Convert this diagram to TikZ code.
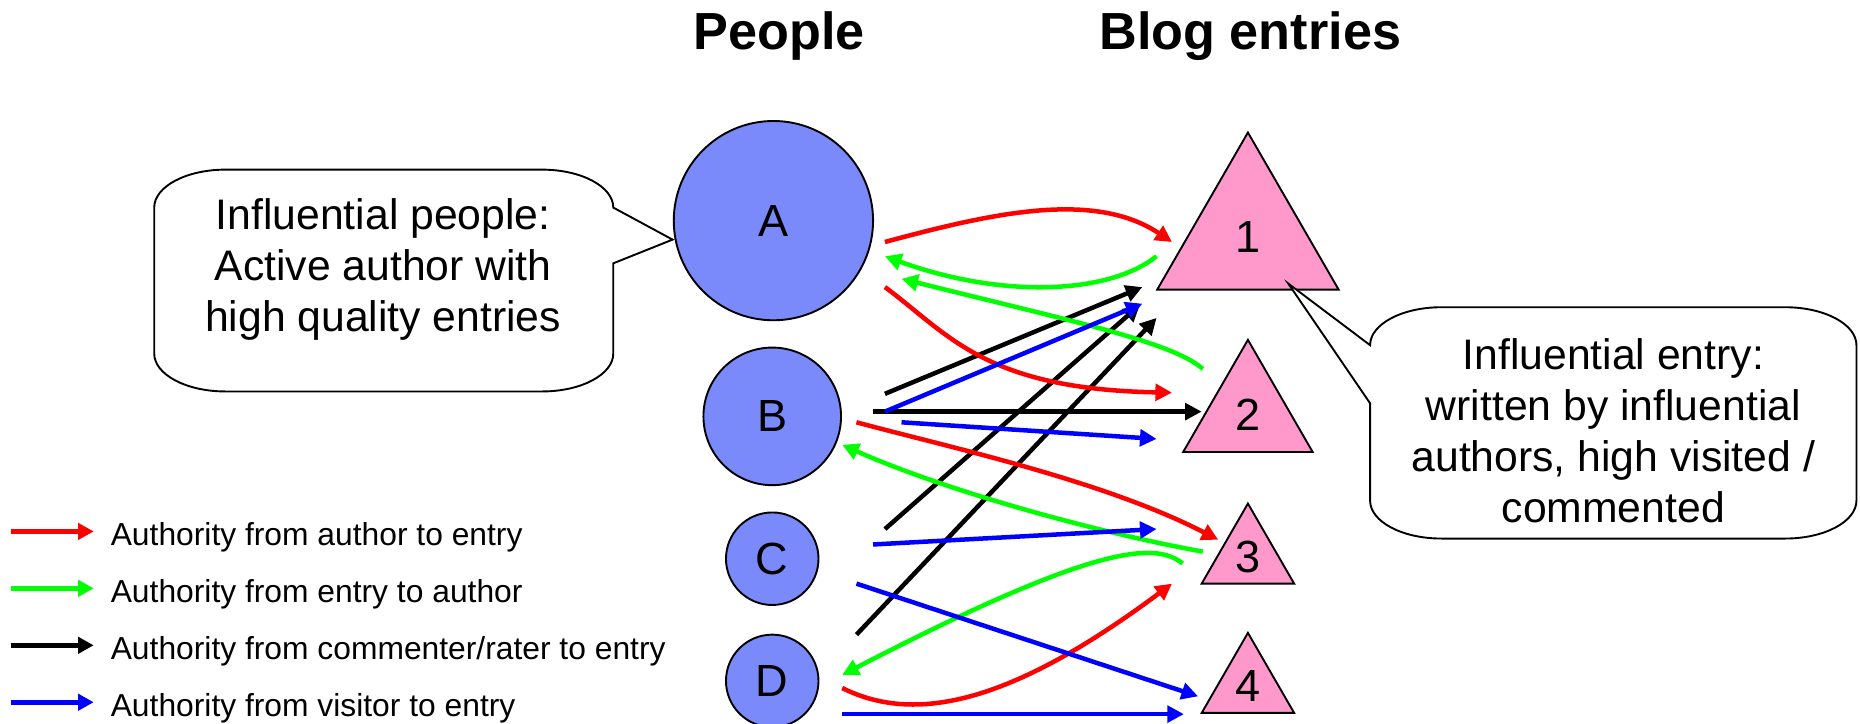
\documentclass[tikz,border=0pt]{standalone}
\usepackage{fontspec}
\setmainfont{Liberation Sans}
\usetikzlibrary{arrows.meta,shapes.geometric}

\definecolor{personfill}{RGB}{122,138,250}
\definecolor{entryfill}{RGB}{255,153,204}
\definecolor{linkred}{RGB}{255,0,0}
\definecolor{linkgreen}{RGB}{0,255,0}
\definecolor{linkblue}{RGB}{0,0,255}

\begin{document}
\begin{tikzpicture}[x=0.5pt,y=-0.5pt,
  person/.style={circle,draw=black,line width=0.8pt,fill=personfill,inner sep=0pt,
    font=\fontsize{19}{22}\selectfont},
  entry/.style={regular polygon,regular polygon sides=3,draw=black,line width=0.8pt,
    fill=entryfill,inner sep=0pt,font=\fontsize{19}{22}\selectfont},
  heading/.style={anchor=base,font=\fontsize{22}{26}\selectfont\bfseries},
  callout/.style={draw=black,line width=0.8pt,fill=white},
  callouttext/.style={align=center,font=\fontsize{18}{21.5}\selectfont},
  link/.style={line width=1.9pt,-{Triangle[length=7pt,width=7pt]}},
  keyline/.style={line width=1.9pt,-{Triangle[length=6.6pt,width=6.8pt]}},
  keytext/.style={anchor=base west,inner sep=0pt,font=\fontsize{13.4}{16}\selectfont},
]
\useasboundingbox (0,0) rectangle (1568,610);
\fill[white] (0,0) rectangle (1568,610);

% column headings
\node[heading] (people) at (657,42) {People};
\node[heading] (blog) at (1054,42) {Blog entries};

% people
\node[person,minimum size=84pt] (A) at (652,186) {A};
\node[person,minimum size=58pt] (B) at (651,351) {B};
\node[person,minimum size=39pt] (C) at (651,471) {C};
\node[person,minimum size=39pt] (D) at (651,574) {D};

% blog entries
\node[entry,minimum size=88.3pt] (E1) at (1052,200) {1};
\node[entry,minimum size=63pt] (E2) at (1052,349.5) {2};
\node[entry,minimum size=45pt] (E3) at (1052,469.5) {3};
\node[entry,minimum size=45pt] (E4) at (1052,578.5) {4};

% callout for influential people (rounded box with a wedge towards A)
\draw[callout] (190,143) -- (457,143) .. controls (490,143) and (517,157.3) .. (517,175)
  -- (567,202) -- (517,222) -- (517,298)
  .. controls (517,315.7) and (490,330) .. (457,330) -- (190,330)
  .. controls (157,330) and (130,315.7) .. (130,298) -- (130,175)
  .. controls (130,157.3) and (157,143) .. (190,143) -- cycle;
\node[callouttext] (peoplenote) at (323,227)
  {Influential people:\\Active author with\\high quality entries};

% callout for influential entries (wedge towards entry 1)
\draw[callout] (1215,259) -- (1505,259) .. controls (1538,259) and (1565,273.3) .. (1565,291)
  -- (1565,422) .. controls (1565,439.7) and (1538,454) .. (1505,454) -- (1215,454)
  .. controls (1182,454) and (1155,439.7) .. (1155,422) -- (1155,340) -- (1086,239)
  -- (1155,291) .. controls (1155,273.3) and (1182,259) .. (1215,259) -- cycle;
\node[callouttext] (entrynote) at (1360,363)
  {Influential entry:\\written by influential\\authors, high visited /\\commented};

% connector end points
\coordinate (a1s) at (746,204);  \coordinate (a1e) at (988,204);
\coordinate (a2s) at (746,242);  \coordinate (a2e) at (988,331);
\coordinate (b3s) at (722,356);  \coordinate (b3e) at (1027,455);
\coordinate (d3s) at (710,580);  \coordinate (d3e) at (988,492);
\coordinate (g1s) at (975,216);  \coordinate (g1e) at (746,216);
\coordinate (g2s) at (1014,311); \coordinate (g2e) at (760,235);
\coordinate (g3s) at (1014,465); \coordinate (g3e) at (710,375);
\coordinate (g4s) at (997,475);  \coordinate (g4e) at (710,569);
\coordinate (k1s) at (746,332);  \coordinate (k1e) at (963,242);
\coordinate (k2s) at (736,347);  \coordinate (k2e) at (1013,347);
\coordinate (k3s) at (746,446);  \coordinate (k3e) at (961,257);
\coordinate (k4s) at (722,535);  \coordinate (k4e) at (975,268);
\coordinate (v1s) at (746,347);  \coordinate (v1e) at (963,256);
\coordinate (v2s) at (760,356);  \coordinate (v2e) at (975,370);
\coordinate (v3s) at (736,459);  \coordinate (v3e) at (975,446);
\coordinate (v4s) at (722,492);  \coordinate (v4e) at (1010,587);
\coordinate (v5s) at (710,602);  \coordinate (v5e) at (998,602);

% commenter / rater links
\draw[link,black] (k1s) -- (k1e);
\draw[link,black] (k2s) -- (k2e);
\draw[link,black] (k3s) -- (k3e);
\draw[link,black] (k4s) -- (k4e);

% entry to author links
\draw[link,linkgreen] (g1s) .. controls (935,248) and (845,252) .. (g1e);
\draw[link,linkgreen] (g2s) .. controls (988,288) and (900,270) .. (g2e);
\draw[link,linkgreen] (g3s) .. controls (930,450) and (800,415) .. (g3e);
\draw[link,linkgreen] (g4s) .. controls (975,458) and (930,455) .. (g4e);

% author to entry links
\draw[link,linkred] (a1s) .. controls (835,180) and (922,160) .. (a1e);
\draw[link,linkred] (a2s) .. controls (800,282) and (830,328) .. (a2e);
\draw[link,linkred] (b3s) .. controls (800,377) and (930,405) .. (b3e);
\draw[link,linkred] (d3s) .. controls (770,610) and (850,595) .. (d3e);

% visitor links
\draw[link,linkblue] (v1s) -- (v1e);
\draw[link,linkblue] (v2s) -- (v2e);
\draw[link,linkblue] (v3s) -- (v3e);
\draw[link,linkblue] (v4s) -- (v4e);
\draw[link,linkblue] (v5s) -- (v5e);

% legend
\coordinate (l1s) at (9,448);  \coordinate (l1e) at (79,448);
\coordinate (l2s) at (9,496);  \coordinate (l2e) at (79,496);
\coordinate (l3s) at (9,544);  \coordinate (l3e) at (79,544);
\coordinate (l4s) at (9,592);  \coordinate (l4e) at (79,592);
\draw[keyline,linkred] (l1s) -- (l1e);
\draw[keyline,linkgreen] (l2s) -- (l2e);
\draw[keyline,black] (l3s) -- (l3e);
\draw[keyline,linkblue] (l4s) -- (l4e);
\node[keytext] (t1) at (93,460) {Authority from author to entry};
\node[keytext] (t2) at (93,508) {Authority from entry to author};
\node[keytext] (t3) at (93,556) {Authority from commenter/rater to entry};
\node[keytext] (t4) at (93,604) {Authority from visitor to entry};
\end{tikzpicture}
\end{document}
